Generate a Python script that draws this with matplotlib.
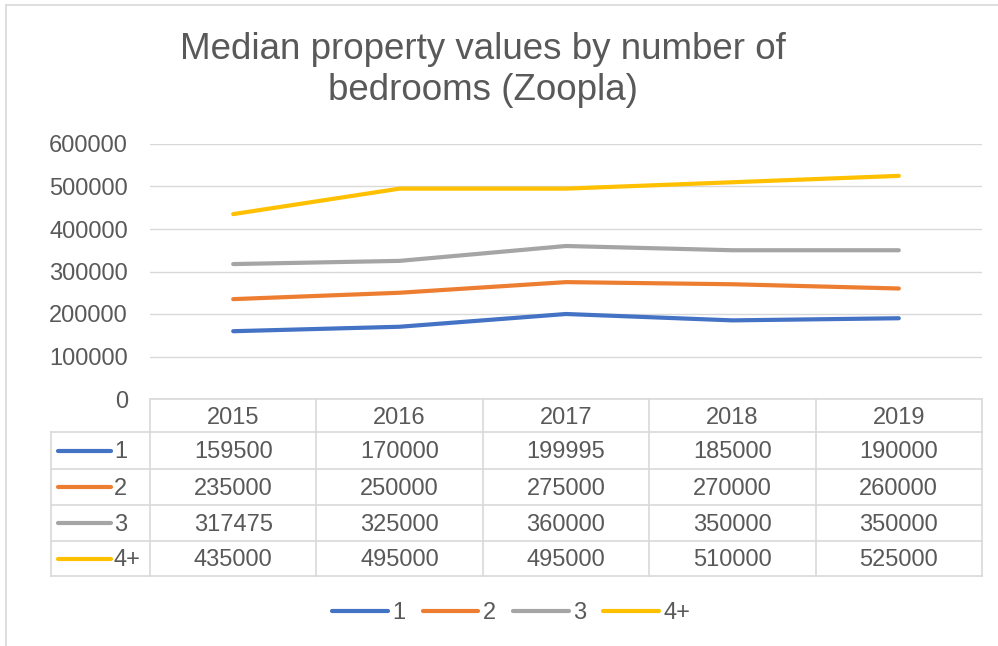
import matplotlib.pyplot as plt
from matplotlib.lines import Line2D
from matplotlib.transforms import blended_transform_factory

plt.rcParams['font.family'] = ['Liberation Sans', 'DejaVu Sans']

years = ['2015', '2016', '2017', '2018', '2019']
series_names = ['1', '2', '3', '4+']
beds_1 = [159500, 170000, 199995, 185000, 190000]
beds_2 = [235000, 250000, 275000, 270000, 260000]
beds_3 = [317475, 325000, 360000, 350000, 350000]
beds_4 = [435000, 495000, 495000, 510000, 525000]
colors = ['#4472C4', '#ED7D31', '#A5A5A5', '#FFC000']
yticks = [0, 100000, 200000, 300000, 400000, 500000, 600000]

W, H = 998, 646
txt = '#595959'
grid = '#D9D9D9'
fs = 17

fig = plt.figure(figsize=(W / 100, H / 100), dpi=100)

def fx(px):
    return px / W

def fy(py):
    return 1 - py / H

# outer chart border (partly cropped)
fig.add_artist(Line2D([fx(6), fx(6)], [fy(5), fy(646)], color=grid, lw=1.2))
fig.add_artist(Line2D([fx(6), fx(998)], [fy(5), fy(5)], color=grid, lw=1.2))

fig.text(fx(483), fy(70), 'Median property values by number of\nbedrooms (Zoopla)',
         ha='center', va='center', fontsize=26.5, color=txt, linespacing=1.2)

ax = fig.add_axes([fx(150), fy(399), fx(982) - fx(150), fy(144) - fy(399)])
all_series = [beds_1, beds_2, beds_3, beds_4]
x = list(range(len(years)))
for name, vals, c in zip(series_names, all_series, colors):
    ax.plot(x, vals, color=c, lw=3.0, solid_capstyle='round', label=name, zorder=3)

ax.set_xlim(-0.5, len(years) - 0.5)
ax.set_ylim(0, 600000)
ax.set_yticks(yticks)
ax.set_yticklabels([str(v) for v in yticks], fontsize=fs, color=txt)
ax.set_xticks([])
ax.tick_params(axis='y', length=0, pad=16)
ax.yaxis.grid(True, color=grid, lw=1)
ax.set_axisbelow(True)
for s in ax.spines.values():
    s.set_visible(False)
ax.patch.set_alpha(0)

# data table
tr = blended_transform_factory(ax.transData, fig.transFigure)
row_edges = [399, 432, 469, 505, 541, 576]
col_edges = [i - 0.5 for i in range(len(years) + 1)]
for ce in col_edges:
    fig.add_artist(Line2D([ce, ce], [fy(399), fy(576)], transform=tr, color=grid, lw=1.2))
for k, re_ in enumerate(row_edges):
    x0 = fx(150) if k == 0 else fx(51)
    fig.add_artist(Line2D([x0, fx(982)], [fy(re_), fy(re_)], color=grid, lw=1.2))
fig.add_artist(Line2D([fx(51), fx(51)], [fy(432), fy(576)], color=grid, lw=1.2))

hy = (row_edges[0] + row_edges[1]) / 2 + 2.5
for i, yr in enumerate(years):
    fig.text(i, fy(hy), yr, transform=tr, ha='center', va='center', fontsize=fs, color=txt)

for r, (name, vals, c) in enumerate(zip(series_names, all_series, colors)):
    cy = (row_edges[r + 1] + row_edges[r + 2]) / 2
    fig.add_artist(Line2D([fx(58), fx(111)], [fy(cy), fy(cy)], color=c, lw=3.0,
                          solid_capstyle='round'))
    fig.text(fx(114), fy(cy + 2), name, ha='left', va='center', fontsize=fs, color=txt)
    for i, v in enumerate(vals):
        fig.text(i, fy(cy + 2), str(v), transform=tr, ha='center', va='center',
                 fontsize=fs, color=txt)

handles = [Line2D([], [], color=c, lw=3.0, solid_capstyle='round') for c in colors]
fig.legend(handles, series_names, loc='center', bbox_to_anchor=(fx(511.5), fy(613)),
           ncol=4, frameon=False, fontsize=fs, handlelength=2.35, handletextpad=0.2,
           columnspacing=0.72, labelcolor=txt)

fig.savefig('out.png', dpi=100)
